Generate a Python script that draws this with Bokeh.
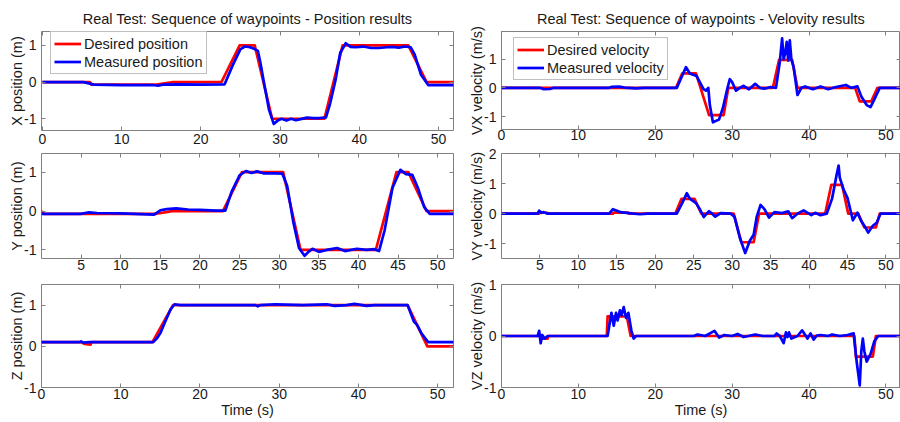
from bokeh.plotting import figure
from bokeh.models import Range1d, LinearAxis, FixedTicker, Legend, LegendItem, CustomLabelingPolicy
from bokeh.layouts import column, row
from bokeh.embed import file_html
from bokeh.resources import INLINE

# ---------------- data: (time [s], value) ----------------
x_pos_desired = [(0, 0), (6.0, 0), (6.2, -0.07), (14.4, -0.07), (16.5, 0), (22.6, 0), (24.9, 1),
                 (26.8, 1), (29.0, -1), (35.6, -1), (37.9, 1), (46.2, 1), (48.5, 0), (52, 0)]
x_pos_measured = [(0, 0), (5.2, 0), (6.5, -0.07), (10, -0.08), (14.0, -0.08), (14.6, -0.1), (15.2, -0.07),
                  (17, -0.06), (20, -0.07), (23.0, -0.06), (24.0, 0.45), (25.0, 0.9), (25.6, 0.97),
                  (26.2, 0.95), (26.8, 0.9), (27.2, 0.85), (27.5, 0.55), (28.0, -0.05), (28.6, -0.75),
                  (29.2, -1.14), (29.7, -1.05), (30.2, -1.0), (30.8, -1.05), (31.4, -1.0), (32.0, -1.04),
                  (32.6, -1.01), (33.4, -0.97), (34.2, -0.98), (35.0, -0.98), (35.8, -0.96), (36.3, -0.6),
                  (37.0, 0.05), (37.6, 0.8), (38.3, 1.06), (38.9, 0.96), (39.5, 0.95), (40.5, 0.97),
                  (41.5, 0.93), (42.5, 0.93), (43.5, 0.95), (44.2, 0.96), (45.0, 0.94), (45.8, 0.97),
                  (46.5, 0.95), (47.0, 0.75), (47.8, 0.2), (48.7, -0.08), (52, -0.08)]

y_pos_desired = [(0, 0), (0.3, -0.07), (14.5, -0.07), (16.5, 0), (22.9, 0), (25.3, 1), (30.5, 1),
                 (32.7, -1), (42.2, -1), (44.8, 1), (46.3, 1), (48.6, 0), (52, 0)]
y_pos_measured = [(0, -0.07), (5, -0.07), (6, -0.035), (7, -0.05), (10, -0.06), (14.2, -0.09), (15.0, 0.02),
                  (15.8, 0.05), (17.0, 0.07), (18.5, 0.04), (20, 0.03), (22.0, 0.01), (23.2, 0.01),
                  (24.0, 0.5), (25.0, 0.92), (25.8, 1.03), (26.5, 0.98), (27.2, 1.02), (28.0, 0.97),
                  (29.5, 0.97), (30.4, 0.96), (31.0, 0.65), (31.8, -0.3), (32.5, -0.95), (33.2, -1.15),
                  (33.7, -1.05), (34.2, -0.97), (35.0, -1.05), (36.0, -1.0), (37.3, -0.95), (38.3, -1.03),
                  (39.8, -0.97), (41.0, -1.0), (42.0, -0.98), (42.6, -1.03), (43.3, -0.5), (44.3, 0.6),
                  (45.3, 1.06), (46.0, 0.95), (46.8, 0.93), (47.5, 0.6), (48.3, 0.1), (49.0, -0.07),
                  (52, -0.07)]

z_pos_desired = [(0, 0.1), (5.0, 0.1), (5.4, 0.06), (6.2, 0.04), (6.3, 0.1), (14.0, 0.1), (16.6, 1.0),
                 (46.2, 1.0), (48.7, 0.0), (52, 0.0)]
z_pos_measured = [(0, 0.1), (4.8, 0.1), (5.0, 0.12), (5.3, 0.09), (6, 0.1), (14.1, 0.1), (14.6, 0.2),
                  (15.0, 0.32), (15.5, 0.55), (16.3, 0.9), (16.8, 1.02), (17.5, 1.0), (27.0, 1.0),
                  (27.3, 0.97), (27.6, 1.0), (29.5, 1.02), (33, 1.0), (36.0, 1.02), (37.0, 0.98),
                  (38.5, 1.0), (39.5, 1.03), (40.5, 1.0), (41.0, 0.98), (42.0, 1.0), (46.2, 1.0),
                  (46.6, 0.8), (47.0, 0.6), (47.4, 0.52), (48.0, 0.3), (48.8, 0.1), (52, 0.1)]

vx_desired = [(0, 0), (22.7, 0), (23.5, 0.5), (25.3, 0.5), (27.0, -0.95), (28.9, -0.95), (29.5, 0),
              (35.3, 0), (36.1, 0.97), (37.8, 0.97), (38.5, 0), (46.0, 0), (46.6, -0.47), (48.1, -0.47),
              (48.9, 0), (52, 0)]
vx_measured = [(0, 0), (5.0, 0), (5.5, -0.05), (6.3, -0.04), (6.8, 0), (14.0, 0), (14.3, 0.03), (15.3, 0.04),
               (16.0, 0.01), (17.5, -0.02), (18.5, 0), (22.8, 0), (23.3, 0.3), (24.0, 0.72), (24.5, 0.5),
               (25.0, 0.45), (25.4, 0.4), (25.9, 0.15), (26.3, -0.05), (26.6, -0.1), (26.9, 0.0),
               (27.1, -0.6), (27.5, -1.2), (27.9, -1.15), (28.3, -1.1), (28.8, -0.7), (29.4, 0.0),
               (29.7, 0.3), (30.0, 0.2), (30.5, -0.1), (31.0, 0.0), (31.5, 0.07), (32.2, -0.05),
               (33.0, 0.14), (33.6, 0.0), (34.2, -0.03), (35.0, 0.03), (35.7, 0.0), (36.2, 0.9),
               (36.5, 1.72), (36.7, 1.0), (36.9, 1.2), (37.1, 1.6), (37.3, 0.95), (37.5, 1.65),
               (37.7, 1.0), (38.0, 0.72), (38.5, -0.25), (39.0, 0.0), (39.5, 0.05), (40.5, -0.05),
               (41.5, 0.05), (42.5, -0.05), (43.5, 0.03), (44.8, 0.1), (45.5, 0.0), (46.3, 0.05),
               (46.8, -0.3), (47.5, -0.6), (48.0, -0.67), (48.5, -0.4), (49.2, 0.0), (52, 0)]

vy_desired = [(0, 0), (4.9, 0), (5.0, 0.03), (6.0, 0.03), (6.1, 0), (14.5, 0), (14.6, 0.035), (16.5, 0.035),
              (16.6, 0), (22.6, 0), (23.4, 0.49), (25.1, 0.49), (26.0, 0), (30.2, 0), (31.2, -0.95),
              (32.8, -0.95), (33.5, 0), (42.1, 0), (42.9, 0.96), (44.3, 0.96), (45.1, 0), (46.4, 0),
              (47.2, -0.46), (48.7, -0.46), (49.2, 0), (52, 0)]
vy_measured = [(0, 0), (4.7, 0), (4.9, 0.1), (5.2, 0.03), (5.5, 0.05), (6, 0), (14.0, 0), (14.5, 0.15),
               (15.0, 0.1), (15.5, 0.05), (16.5, 0.02), (18, -0.02), (19, 0), (22.8, 0), (23.5, 0.35),
               (24.1, 0.68), (24.5, 0.5), (24.8, 0.44), (25.3, 0.35), (25.8, 0.15), (26.3, -0.11),
               (26.7, 0.0), (27.0, 0.08), (27.4, 0.0), (27.8, -0.1), (28.5, 0.02), (29.8, 0),
               (30.3, -0.1), (31.0, -0.8), (31.7, -1.31), (32.3, -0.9), (32.8, -0.7), (33.2, -0.1),
               (33.7, 0.29), (34.2, 0.15), (34.8, -0.13), (35.5, 0.05), (36.5, 0.02), (37.3, 0.08),
               (37.8, -0.15), (38.5, 0.0), (39.3, 0.11), (40.3, -0.05), (40.8, 0.03), (41.5, -0.05),
               (42.3, 0), (43.0, 0.5), (43.6, 1.3), (43.85, 1.6), (44.0, 1.2), (44.5, 0.8), (45.0, 0.53),
               (45.7, -0.22), (46.3, 0.03), (46.8, -0.25), (47.2, -0.4), (47.7, -0.63), (48.3, -0.4),
               (48.8, -0.3), (49.3, 0), (52, 0)]

vz_desired = [(0, 0), (5.0, 0), (5.2, -0.05), (6.0, -0.05), (6.1, 0), (13.7, 0), (13.8, 0.38), (16.3, 0.38),
              (16.8, 0), (45.9, 0), (46.1, -0.4), (48.3, -0.4), (48.7, 0), (52, 0)]
vz_measured = [(0, 0), (4.7, 0), (4.9, 0.1), (5.1, -0.14), (5.3, 0.02), (5.6, -0.05), (6.0, 0), (13.8, 0),
               (14.3, 0.45), (14.6, 0.2), (14.9, 0.45), (15.1, 0.3), (15.4, 0.5), (15.6, 0.4), (15.9, 0.56),
               (16.2, 0.35), (16.5, 0.45), (16.9, 0.1), (17.2, -0.05), (17.5, 0), (25.0, 0), (25.5, 0.03),
               (26.5, 0.0), (27.7, 0.1), (28.3, -0.03), (29.0, 0.02), (30.0, 0), (30.7, 0.04),
               (31.5, -0.02), (33.0, 0.03), (34.0, 0), (35.5, 0), (35.8, 0.05), (36.2, 0.0),
               (36.7, -0.14), (37.0, 0.07), (37.2, -0.02), (37.4, 0.07), (37.7, -0.05), (38.5, 0),
               (39.1, 0.11), (39.8, -0.05), (40.2, 0.05), (40.6, -0.07), (41.0, 0.01), (41.5, 0.02),
               (42.5, 0), (43.0, 0.03), (44.0, 0), (45.0, 0.02), (45.8, 0.05), (46.2, -0.5),
               (46.6, -0.96), (46.8, -0.3), (47.0, -0.05), (47.2, -0.3), (47.5, -0.5), (48.0, -0.35),
               (48.5, -0.1), (49.0, 0), (52, 0)]

# ---------------- texts and ticks ----------------
TITLE_POS = "Real Test: Sequence of waypoints - Position results"
TITLE_VEL = "Real Test: Sequence of waypoints - Velovity results"
LEGEND_POS = ["Desired position", "Measured position"]
LEGEND_VEL = ["Desired velocity", "Measured velocity"]
Y_LABELS = ["X position (m)", "Y position (m)", "Z position (m)",
            "VX velocity (m/s)", "VY velocity (m/s)", "VZ velocity (m/s)"]
X_LABEL = "Time (s)"
X_TICKS_10 = [0, 10, 20, 30, 40, 50]
X_TICKS_5 = [5, 10, 15, 20, 25, 30, 35, 40, 45, 50]
Y_TICKS = [-1, 0, 1]
Y_TICKS_VY = [-1, 0, 1, 2]

FONT = "Liberation Sans"
AXC = "#808080"
TXT = "#1a1a1a"
RED = "#ff0000"
BLUE = "#0000ff"
LW = 2.7
FS = "14.5px"
TFS = "14px"


def lab(v):
    return str(int(v)) if float(v).is_integer() else str(v)


def panel(xr, yr, xticks, yticks, ylabel, w, h, mbl, mbr, mbt, mbb, xstand=3, title=None, xlabel=None):
    p = figure(output_backend="svg", toolbar_location=None, width=w, height=h,
               x_range=Range1d(*xr), y_range=Range1d(*yr), x_axis_type=None, y_axis_type=None,
               min_border_left=mbl, min_border_right=mbr, min_border_top=mbt, min_border_bottom=mbb,
               title=title)
    p.outline_line_color = AXC
    p.outline_line_width = 1
    p.background_fill_color = "white"
    p.border_fill_color = "white"
    if title is not None:
        p.title.align = "center"
        p.title.text_font = FONT
        p.title.text_font_size = FS
        p.title.text_font_style = "normal"
        p.title.text_color = TXT
        p.title.standoff = 10
    for place, ticks, show in (("below", xticks, True), ("left", yticks, True),
                               ("above", xticks, False), ("right", yticks, False)):
        ax = LinearAxis(ticker=FixedTicker(ticks=ticks))
        ax.axis_line_color = None
        ax.major_tick_line_color = AXC
        ax.major_tick_in = 4
        ax.major_tick_out = 0
        ax.minor_tick_line_color = None
        if show:
            ax.major_label_overrides = {t: lab(t) for t in ticks}
            ax.major_label_text_font = FONT
            ax.major_label_text_font_size = TFS
            ax.major_label_text_color = TXT
            ax.major_label_standoff = xstand if place == "below" else 5
            lbl = ylabel if place == "left" else xlabel
            if lbl:
                ax.axis_label = lbl
                ax.axis_label_text_font = FONT
                ax.axis_label_text_font_size = FS
                ax.axis_label_text_font_style = "normal"
                ax.axis_label_text_color = TXT
                ax.axis_label_standoff = -4 if place == "left" else 0
        else:
            ax.major_label_policy = CustomLabelingPolicy(code="return []")
            ax.major_label_text_font_size = "0px"
            ax.major_label_standoff = 0
        p.add_layout(ax, place)
    return p


def draw(p, desired, measured):
    rr = p.line([t for t, v in desired], [v for t, v in desired], line_color=RED, line_width=LW,
                line_join="round")
    rb = p.line([t for t, v in measured], [v for t, v in measured], line_color=BLUE, line_width=LW,
                line_join="round")
    return rr, rb


def legend(p, rr, rb, labels, x, top, fh):
    lg = Legend(items=[LegendItem(label=labels[0], renderers=[rr]),
                       LegendItem(label=labels[1], renderers=[rb])])
    lg.location = (x, fh - top - 41)
    lg.border_line_color = AXC
    lg.border_line_width = 1
    lg.background_fill_color = "white"
    lg.background_fill_alpha = 1
    lg.label_text_font = FONT
    lg.label_text_font_size = FS
    lg.label_text_color = TXT
    lg.padding = 3
    lg.spacing = 1
    lg.margin = 0
    lg.glyph_width = 27
    lg.glyph_height = 17
    lg.label_height = 17
    lg.label_standoff = 3
    p.add_layout(lg)


LW_FIG, RW_FIG = 463, 437          # figure widths (left / right column)
XR_L = (0, 52)
XR_R = (0, 51.9)

# ---- left column (positions) ----
p1 = panel((-0.12, 51.9), (-1.32, 1.38), X_TICKS_10, Y_TICKS, Y_LABELS[0], LW_FIG, 149, 41, 10, 31, 19,
           title=TITLE_POS)
r, b = draw(p1, x_pos_desired, x_pos_measured)
legend(p1, r, b, LEGEND_POS, 9, 2, 99)

p2 = panel(XR_L, (-1.22, 1.48), X_TICKS_5, Y_TICKS, Y_LABELS[1], LW_FIG, 126, 41, 10, 4, 17, xstand=1)
draw(p2, y_pos_desired, y_pos_measured)

p3 = panel(XR_L, (-1, 1.5), X_TICKS_10, Y_TICKS, Y_LABELS[2], LW_FIG, 147, 41, 10, 9, 35, xstand=1,
           xlabel=X_LABEL)
draw(p3, z_pos_desired, z_pos_measured)

# ---- right column (velocities) ----
q1 = panel(XR_R, (-1.45, 1.96), X_TICKS_10, Y_TICKS, Y_LABELS[3], RW_FIG, 145, 38, 0, 31, 16, xstand=0,
           title=TITLE_VEL)
r, b = draw(q1, vx_desired, vx_measured)
legend(q1, r, b, LEGEND_VEL, 12, 8, 98)

q2 = panel(XR_R, (-1.49, 2.0), X_TICKS_5, Y_TICKS_VY, Y_LABELS[4], RW_FIG, 130, 38, 0, 8, 17, xstand=1)
draw(q2, vy_desired, vy_measured)

q3 = panel(XR_R, (-1, 1), X_TICKS_10, Y_TICKS, Y_LABELS[5], RW_FIG, 147, 38, 0, 9, 35, xstand=1,
           xlabel=X_LABEL)
draw(q3, vz_desired, vz_measured)

layout = row(column(p1, p2, p3), column(q1, q2, q3))

open("out.html", "w").write(file_html(layout, INLINE))
